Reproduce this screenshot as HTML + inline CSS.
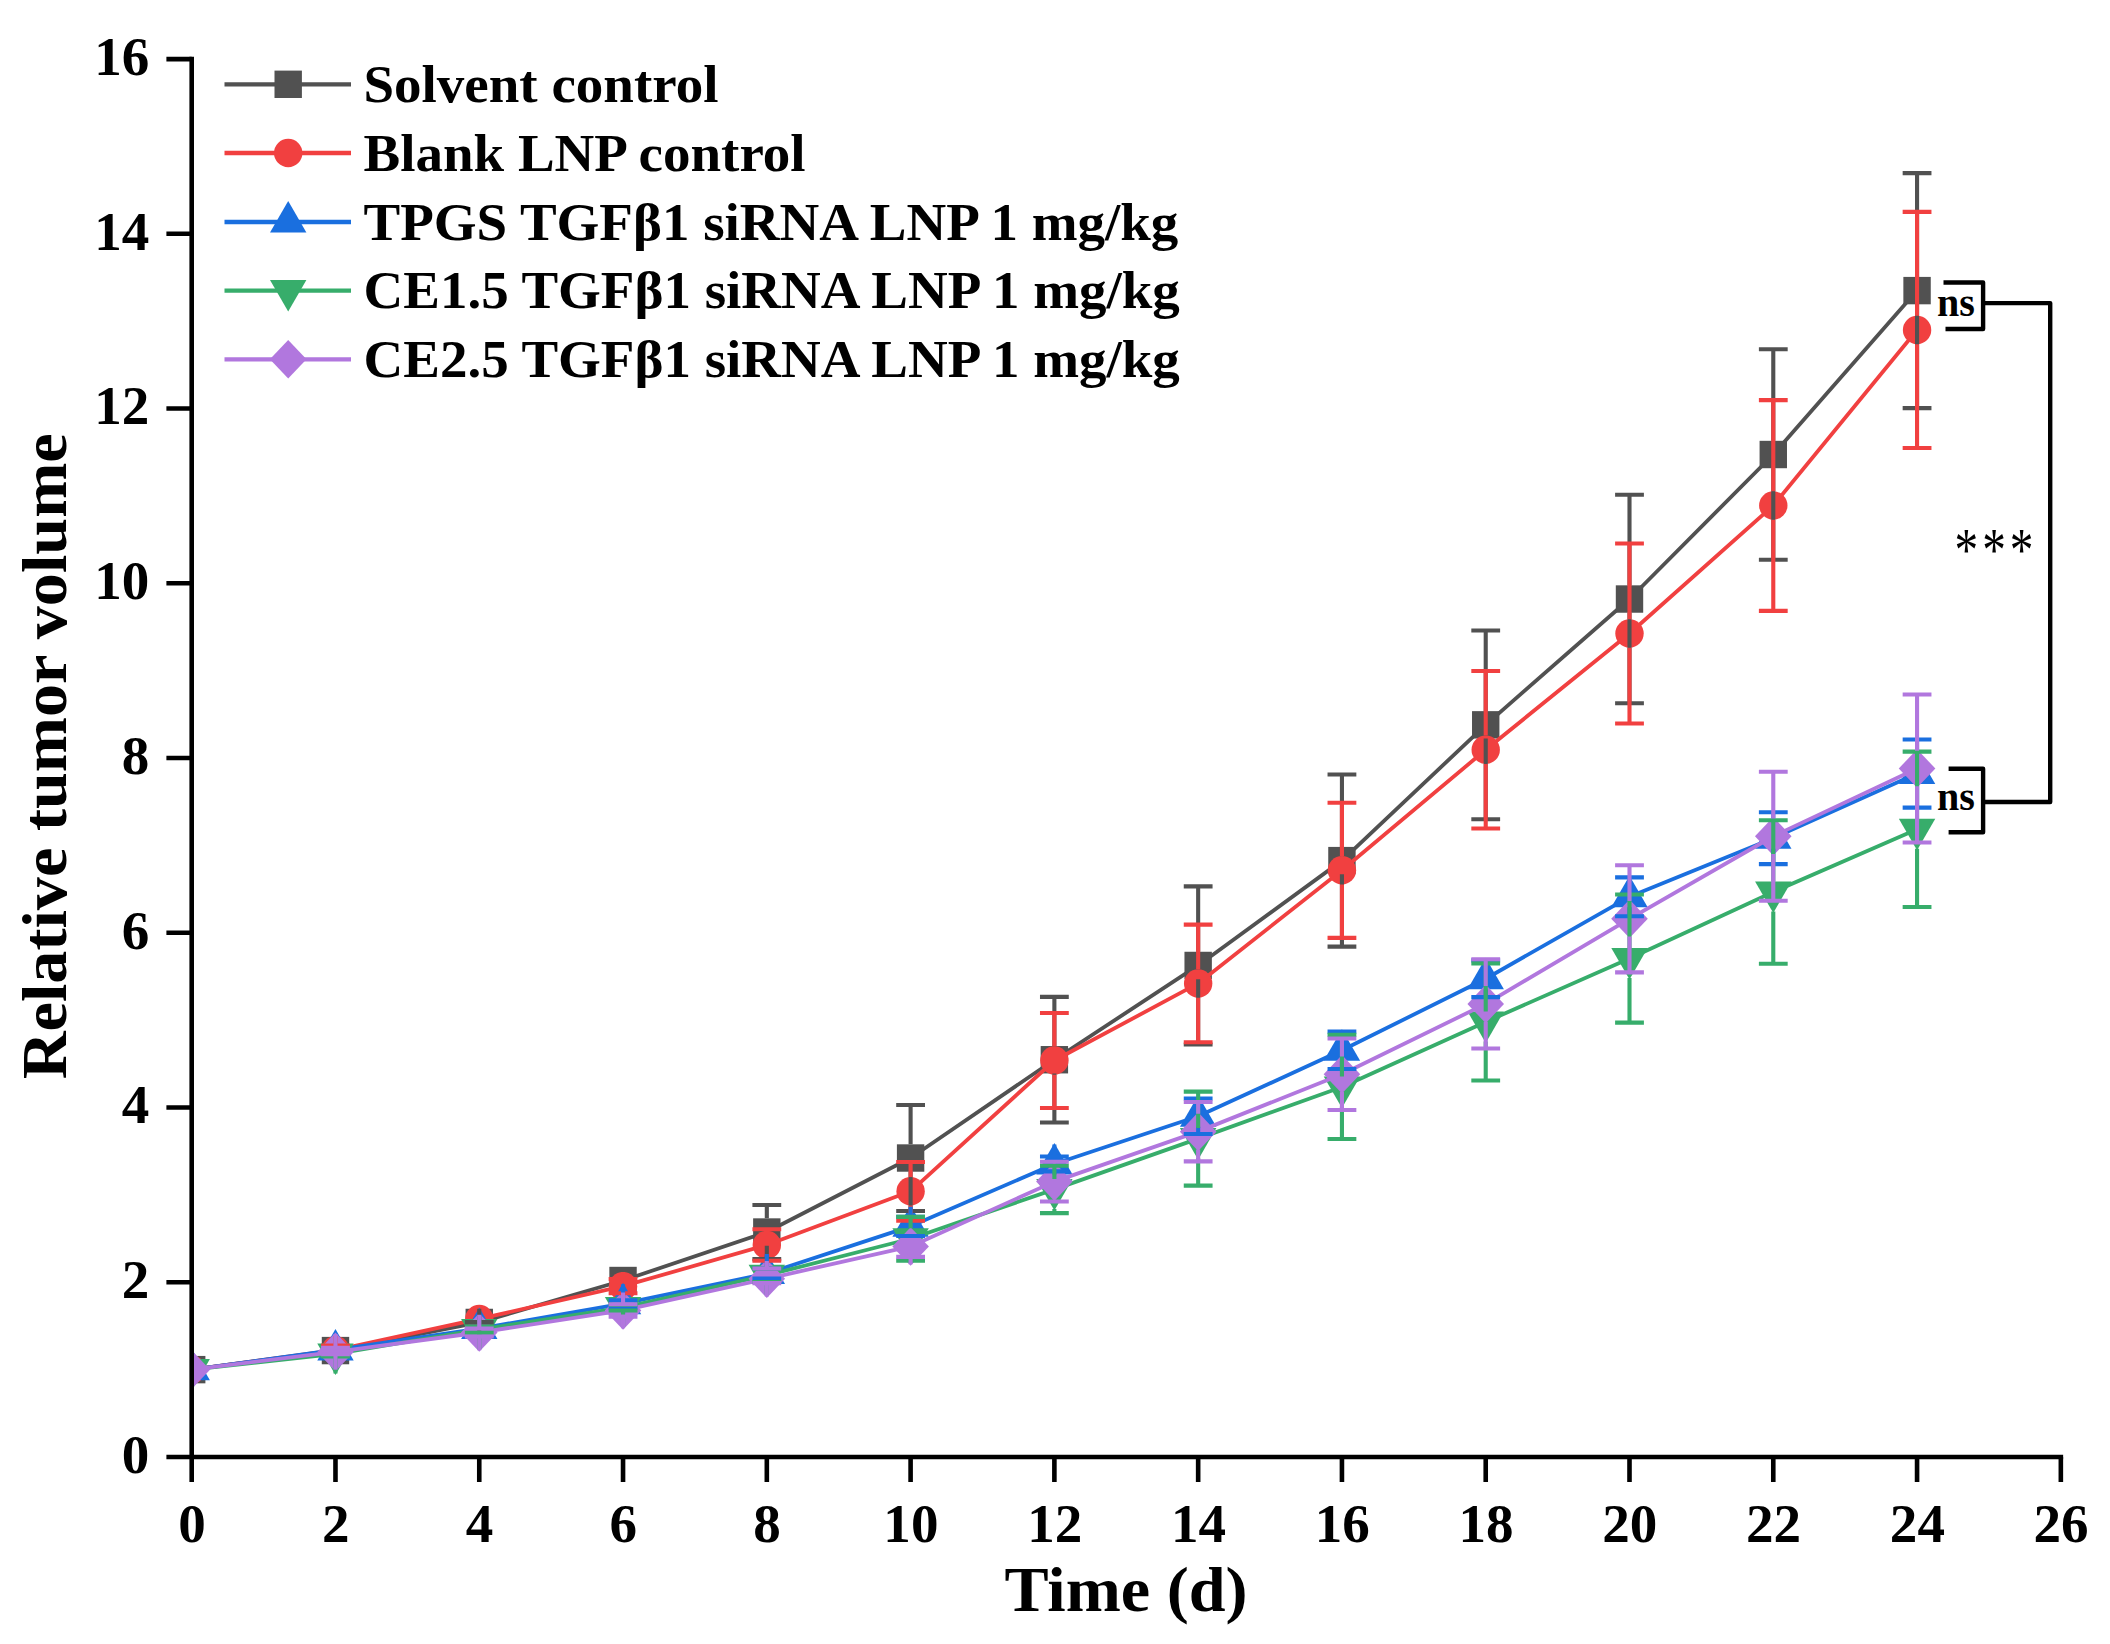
<!DOCTYPE html>
<html lang="en"><head><meta charset="utf-8"><title>Relative tumor volume</title>
<style>html,body{margin:0;padding:0;background:#fff}svg{display:block}text{font-family:"Liberation Serif",serif;font-weight:bold;fill:#000}</style></head><body>
<svg width="2110" height="1644" viewBox="0 0 2110 1644">
<rect width="2110" height="1644" fill="#fff"/>
<defs><clipPath id="pc"><rect x="191.7" y="0" width="2110" height="1457.0"/></clipPath></defs>
<g clip-path="url(#pc)">
<polyline points="191.70,1369.63 335.48,1350.58 479.26,1322.45 623.04,1280.51 766.82,1232.02 910.60,1158.02 1054.38,1059.73 1198.16,965.46 1341.94,860.61 1485.72,724.84 1629.50,599.03 1773.28,454.52 1917.06,290.61" fill="none" stroke="#515151" stroke-width="3.8" stroke-linejoin="round"/>
<rect x="178.00" y="1355.93" width="27.40" height="27.40" fill="#515151"/>
<rect x="321.78" y="1336.88" width="27.40" height="27.40" fill="#515151"/>
<rect x="465.56" y="1308.75" width="27.40" height="27.40" fill="#515151"/>
<rect x="609.34" y="1266.81" width="27.40" height="27.40" fill="#515151"/>
<rect x="753.12" y="1218.32" width="27.40" height="27.40" fill="#515151"/>
<rect x="896.90" y="1144.32" width="27.40" height="27.40" fill="#515151"/>
<rect x="1040.68" y="1046.03" width="27.40" height="27.40" fill="#515151"/>
<rect x="1184.46" y="951.76" width="27.40" height="27.40" fill="#515151"/>
<rect x="1328.24" y="846.91" width="27.40" height="27.40" fill="#515151"/>
<rect x="1472.02" y="711.14" width="27.40" height="27.40" fill="#515151"/>
<rect x="1615.80" y="585.33" width="27.40" height="27.40" fill="#515151"/>
<rect x="1759.58" y="440.82" width="27.40" height="27.40" fill="#515151"/>
<rect x="1903.36" y="276.91" width="27.40" height="27.40" fill="#515151"/>
<polyline points="191.70,1369.63 335.48,1350.23 479.26,1318.96 623.04,1286.19 766.82,1245.04 910.60,1191.31 1054.38,1060.51 1198.16,983.45 1341.94,870.31 1485.72,749.74 1629.50,633.54 1773.28,505.54 1917.06,329.93" fill="none" stroke="#F14040" stroke-width="3.8" stroke-linejoin="round"/>
<circle cx="191.70" cy="1369.63" r="14.2" fill="#F14040"/>
<circle cx="335.48" cy="1350.23" r="14.2" fill="#F14040"/>
<circle cx="479.26" cy="1318.96" r="14.2" fill="#F14040"/>
<circle cx="623.04" cy="1286.19" r="14.2" fill="#F14040"/>
<circle cx="766.82" cy="1245.04" r="14.2" fill="#F14040"/>
<circle cx="910.60" cy="1191.31" r="14.2" fill="#F14040"/>
<circle cx="1054.38" cy="1060.51" r="14.2" fill="#F14040"/>
<circle cx="1198.16" cy="983.45" r="14.2" fill="#F14040"/>
<circle cx="1341.94" cy="870.31" r="14.2" fill="#F14040"/>
<circle cx="1485.72" cy="749.74" r="14.2" fill="#F14040"/>
<circle cx="1629.50" cy="633.54" r="14.2" fill="#F14040"/>
<circle cx="1773.28" cy="505.54" r="14.2" fill="#F14040"/>
<circle cx="1917.06" cy="329.93" r="14.2" fill="#F14040"/>
<polyline points="191.70,1369.63 335.48,1349.97 479.26,1328.57 623.04,1303.67 766.82,1273.52 910.60,1226.34 1054.38,1163.96 1198.16,1116.26 1341.94,1050.29 1485.72,978.74 1629.50,896.78 1773.28,838.16 1917.06,773.50" fill="none" stroke="#1A6FDF" stroke-width="3.8" stroke-linejoin="round"/>
<polygon points="191.70,1348.61 209.90,1380.14 173.50,1380.14" fill="#1A6FDF"/>
<polygon points="335.48,1328.96 353.68,1360.48 317.28,1360.48" fill="#1A6FDF"/>
<polygon points="479.26,1307.55 497.46,1339.07 461.06,1339.07" fill="#1A6FDF"/>
<polygon points="623.04,1282.65 641.24,1314.17 604.84,1314.17" fill="#1A6FDF"/>
<polygon points="766.82,1252.51 785.02,1284.03 748.62,1284.03" fill="#1A6FDF"/>
<polygon points="910.60,1205.33 928.80,1236.85 892.40,1236.85" fill="#1A6FDF"/>
<polygon points="1054.38,1142.95 1072.58,1174.47 1036.18,1174.47" fill="#1A6FDF"/>
<polygon points="1198.16,1095.24 1216.36,1126.76 1179.96,1126.76" fill="#1A6FDF"/>
<polygon points="1341.94,1029.28 1360.14,1060.80 1323.74,1060.80" fill="#1A6FDF"/>
<polygon points="1485.72,957.72 1503.92,989.24 1467.52,989.24" fill="#1A6FDF"/>
<polygon points="1629.50,875.77 1647.70,907.29 1611.30,907.29" fill="#1A6FDF"/>
<polygon points="1773.28,817.14 1791.48,848.67 1755.08,848.67" fill="#1A6FDF"/>
<polygon points="1917.06,752.49 1935.26,784.01 1898.86,784.01" fill="#1A6FDF"/>
<polyline points="191.70,1369.63 335.48,1353.90 479.26,1329.61 623.04,1307.60 766.82,1275.27 910.60,1238.75 1054.38,1189.39 1198.16,1138.62 1341.94,1086.99 1485.72,1021.90 1629.50,958.55 1773.28,891.98 1917.06,829.33" fill="none" stroke="#37AD6B" stroke-width="3.8" stroke-linejoin="round"/>
<polygon points="191.70,1390.65 209.90,1359.12 173.50,1359.12" fill="#37AD6B"/>
<polygon points="335.48,1374.92 353.68,1343.40 317.28,1343.40" fill="#37AD6B"/>
<polygon points="479.26,1350.63 497.46,1319.11 461.06,1319.11" fill="#37AD6B"/>
<polygon points="623.04,1328.61 641.24,1297.09 604.84,1297.09" fill="#37AD6B"/>
<polygon points="766.82,1296.29 785.02,1264.76 748.62,1264.76" fill="#37AD6B"/>
<polygon points="910.60,1259.77 928.80,1228.24 892.40,1228.24" fill="#37AD6B"/>
<polygon points="1054.38,1210.40 1072.58,1178.88 1036.18,1178.88" fill="#37AD6B"/>
<polygon points="1198.16,1159.64 1216.36,1128.12 1179.96,1128.12" fill="#37AD6B"/>
<polygon points="1341.94,1108.00 1360.14,1076.48 1323.74,1076.48" fill="#37AD6B"/>
<polygon points="1485.72,1042.91 1503.92,1011.39 1467.52,1011.39" fill="#37AD6B"/>
<polygon points="1629.50,979.57 1647.70,948.05 1611.30,948.05" fill="#37AD6B"/>
<polygon points="1773.28,912.99 1791.48,881.47 1755.08,881.47" fill="#37AD6B"/>
<polygon points="1917.06,850.35 1935.26,818.83 1898.86,818.83" fill="#37AD6B"/>
<polyline points="191.70,1369.63 335.48,1351.89 479.26,1332.50 623.04,1310.39 766.82,1278.77 910.60,1246.44 1054.38,1181.61 1198.16,1131.63 1341.94,1074.23 1485.72,1003.90 1629.50,918.80 1773.28,836.24 1917.06,768.52" fill="none" stroke="#B177DE" stroke-width="3.8" stroke-linejoin="round"/>
<polygon points="191.70,1350.33 210.00,1369.63 191.70,1388.93 173.40,1369.63" fill="#B177DE"/>
<polygon points="335.48,1332.59 353.78,1351.89 335.48,1371.19 317.18,1351.89" fill="#B177DE"/>
<polygon points="479.26,1313.20 497.56,1332.50 479.26,1351.80 460.96,1332.50" fill="#B177DE"/>
<polygon points="623.04,1291.09 641.34,1310.39 623.04,1329.69 604.74,1310.39" fill="#B177DE"/>
<polygon points="766.82,1259.47 785.12,1278.77 766.82,1298.07 748.52,1278.77" fill="#B177DE"/>
<polygon points="910.60,1227.14 928.90,1246.44 910.60,1265.74 892.30,1246.44" fill="#B177DE"/>
<polygon points="1054.38,1162.31 1072.68,1181.61 1054.38,1200.91 1036.08,1181.61" fill="#B177DE"/>
<polygon points="1198.16,1112.33 1216.46,1131.63 1198.16,1150.93 1179.86,1131.63" fill="#B177DE"/>
<polygon points="1341.94,1054.93 1360.24,1074.23 1341.94,1093.53 1323.64,1074.23" fill="#B177DE"/>
<polygon points="1485.72,984.60 1504.02,1003.90 1485.72,1023.20 1467.42,1003.90" fill="#B177DE"/>
<polygon points="1629.50,899.50 1647.80,918.80 1629.50,938.10 1611.20,918.80" fill="#B177DE"/>
<polygon points="1773.28,816.94 1791.58,836.24 1773.28,855.54 1754.98,836.24" fill="#B177DE"/>
<polygon points="1917.06,749.22 1935.36,768.52 1917.06,787.82 1898.76,768.52" fill="#B177DE"/>
<g stroke="#515151" stroke-width="4.1" fill="none"><path d="M479.26,1308.75V1322.10M464.86,1322.10H493.66M479.26,1336.15V1322.80M464.86,1322.80H493.66"/><path d="M766.82,1218.32V1204.94M752.42,1204.94H781.22M766.82,1245.72V1259.11M752.42,1259.11H781.22"/><path d="M910.60,1144.32V1104.99M896.20,1104.99H925.00M910.60,1171.72V1211.05M896.20,1211.05H925.00"/><path d="M1054.38,1046.03V996.91M1039.98,996.91H1068.78M1054.38,1073.43V1122.55M1039.98,1122.55H1068.78"/><path d="M1198.16,951.76V886.39M1183.76,886.39H1212.56M1198.16,979.16V1044.53M1183.76,1044.53H1212.56"/><path d="M1341.94,846.91V774.55M1327.54,774.55H1356.34M1341.94,874.31V946.67M1327.54,946.67H1356.34"/><path d="M1485.72,711.14V630.48M1471.32,630.48H1500.12M1485.72,738.54V819.20M1471.32,819.20H1500.12"/><path d="M1629.50,585.33V494.79M1615.10,494.79H1643.90M1629.50,612.73V703.26M1615.10,703.26H1643.90"/><path d="M1773.28,440.82V349.24M1758.88,349.24H1787.68M1773.28,468.22V559.80M1758.88,559.80H1787.68"/><path d="M1917.06,276.91V173.10M1902.66,173.10H1931.46M1917.06,304.31V408.12M1902.66,408.12H1931.46"/></g>
<g stroke="#F14040" stroke-width="4.1" fill="none"><path d="M335.48,1336.03V1345.60M321.08,1345.60H349.88"/><path d="M623.04,1271.99V1279.11M608.64,1279.11H637.44M623.04,1300.39V1293.27M608.64,1293.27H637.44"/><path d="M766.82,1230.84V1229.31M752.42,1229.31H781.22M766.82,1259.24V1260.77M752.42,1260.77H781.22"/><path d="M910.60,1177.11V1162.04M896.20,1162.04H925.00M910.60,1205.51V1220.58M896.20,1220.58H925.00"/><path d="M1054.38,1046.31V1013.07M1039.98,1013.07H1068.78M1054.38,1074.71V1107.96M1039.98,1107.96H1068.78"/><path d="M1198.16,969.25V924.65M1183.76,924.65H1212.56M1198.16,997.65V1042.25M1183.76,1042.25H1212.56"/><path d="M1341.94,856.11V802.77M1327.54,802.77H1356.34M1341.94,884.51V937.85M1327.54,937.85H1356.34"/><path d="M1485.72,735.54V670.93M1471.32,670.93H1500.12M1485.72,763.94V828.55M1471.32,828.55H1500.12"/><path d="M1629.50,619.34V543.55M1615.10,543.55H1643.90M1629.50,647.74V723.53M1615.10,723.53H1643.90"/><path d="M1773.28,491.34V400.17M1758.88,400.17H1787.68M1773.28,519.74V610.91M1758.88,610.91H1787.68"/><path d="M1917.06,315.73V211.89M1902.66,211.89H1931.46M1917.06,344.13V447.96M1902.66,447.96H1931.46"/></g>
<g stroke="#1A6FDF" stroke-width="4.1" fill="none"><path d="M623.04,1284.15V1300.35M608.64,1300.35H637.44M623.04,1314.17V1307.77M608.64,1307.77H637.44"/><path d="M766.82,1254.01V1268.46M752.42,1268.46H781.22M766.82,1284.03V1278.59M752.42,1278.59H781.22"/><path d="M910.60,1206.83V1216.73M896.20,1216.73H925.00M910.60,1236.85V1235.95M896.20,1235.95H925.00"/><path d="M1054.38,1144.45V1156.53M1039.98,1156.53H1068.78M1054.38,1174.47V1171.39M1039.98,1171.39H1068.78"/><path d="M1198.16,1096.74V1098.52M1183.76,1098.52H1212.56M1198.16,1126.76V1133.99M1183.76,1133.99H1212.56"/><path d="M1341.94,1030.78V1031.60M1327.54,1031.60H1356.34M1341.94,1060.80V1068.99M1327.54,1068.99H1356.34"/><path d="M1485.72,959.22V960.39M1471.32,960.39H1500.12M1485.72,989.24V997.08M1471.32,997.08H1500.12"/><path d="M1629.50,877.27V877.39M1615.10,877.39H1643.90M1629.50,907.29V916.18M1615.10,916.18H1643.90"/><path d="M1773.28,818.64V812.21M1758.88,812.21H1787.68M1773.28,848.67V864.11M1758.88,864.11H1787.68"/><path d="M1917.06,753.99V739.43M1902.66,739.43H1931.46M1917.06,784.01V807.58M1902.66,807.58H1931.46"/></g>
<g stroke="#37AD6B" stroke-width="4.1" fill="none"><path d="M335.48,1373.42V1356.52M321.08,1356.52H349.88"/><path d="M479.26,1319.11V1326.64M464.86,1326.64H493.66M479.26,1349.13V1332.59M464.86,1332.59H493.66"/><path d="M623.04,1297.09V1304.71M608.64,1304.71H637.44M623.04,1327.11V1310.48M608.64,1310.48H637.44"/><path d="M766.82,1264.76V1268.54M752.42,1268.54H781.22M766.82,1294.79V1282.00M752.42,1282.00H781.22"/><path d="M910.60,1228.24V1216.91M896.20,1216.91H925.00M910.60,1258.27V1260.59M896.20,1260.59H925.00"/><path d="M1054.38,1178.88V1165.62M1039.98,1165.62H1068.78M1054.38,1208.90V1213.15M1039.98,1213.15H1068.78"/><path d="M1198.16,1128.12V1091.62M1183.76,1091.62H1212.56M1198.16,1158.14V1185.63M1183.76,1185.63H1212.56"/><path d="M1341.94,1076.48V1034.92M1327.54,1034.92H1356.34M1341.94,1106.50V1139.06M1327.54,1139.06H1356.34"/><path d="M1485.72,1011.39V963.36M1471.32,963.36H1500.12M1485.72,1041.41V1080.44M1471.32,1080.44H1500.12"/><path d="M1629.50,948.05V894.51M1615.10,894.51H1643.90M1629.50,978.07V1022.60M1615.10,1022.60H1643.90"/><path d="M1773.28,881.47V820.25M1758.88,820.25H1787.68M1773.28,911.49V963.71M1758.88,963.71H1787.68"/><path d="M1917.06,818.83V751.66M1902.66,751.66H1931.46M1917.06,848.85V907.01M1902.66,907.01H1931.46"/></g>
<g stroke="#B177DE" stroke-width="4.1" fill="none"><path d="M335.48,1334.09V1347.79M321.08,1347.79H349.88M335.48,1369.69V1354.25M321.08,1354.25H349.88"/><path d="M479.26,1314.70V1328.48M464.86,1328.48H493.66M479.26,1350.30V1336.52M464.86,1336.52H493.66"/><path d="M623.04,1292.59V1304.19M608.64,1304.19H637.44M623.04,1328.19V1316.60M608.64,1316.60H637.44"/><path d="M766.82,1260.97V1268.46M752.42,1268.46H781.22M766.82,1296.57V1283.13M752.42,1283.13H781.22"/><path d="M910.60,1264.24V1256.92M896.20,1256.92H925.00"/><path d="M1054.38,1163.81V1161.69M1039.98,1161.69H1068.78M1054.38,1199.41V1201.53M1039.98,1201.53H1068.78"/><path d="M1198.16,1113.83V1101.93M1183.76,1101.93H1212.56M1198.16,1149.43V1161.34M1183.76,1161.34H1212.56"/><path d="M1341.94,1056.43V1038.50M1327.54,1038.50H1356.34M1341.94,1092.03V1109.97M1327.54,1109.97H1356.34"/><path d="M1485.72,986.10V959.25M1471.32,959.25H1500.12M1485.72,1021.70V1048.55M1471.32,1048.55H1500.12"/><path d="M1629.50,901.00V865.24M1615.10,865.24H1643.90M1629.50,936.60V972.36M1615.10,972.36H1643.90"/><path d="M1773.28,818.44V771.76M1758.88,771.76H1787.68M1773.28,854.04V900.72M1758.88,900.72H1787.68"/><path d="M1917.06,750.72V694.52M1902.66,694.52H1931.46M1917.06,786.32V842.53M1902.66,842.53H1931.46"/></g>
</g>
<g stroke="#000" stroke-width="4.6" fill="none">
<path d="M191.7,56.78V1482.00"/>
<path d="M166.39999999999998,1457.0H2063.14"/>
<path d="M166.39999999999998,1282.26H191.7M166.39999999999998,1107.52H191.7M166.39999999999998,932.78H191.7M166.39999999999998,758.04H191.7M166.39999999999998,583.30H191.7M166.39999999999998,408.56H191.7M166.39999999999998,233.82H191.7M166.39999999999998,59.08H191.7M335.48,1457.0V1482.00M479.26,1457.0V1482.00M623.04,1457.0V1482.00M766.82,1457.0V1482.00M910.60,1457.0V1482.00M1054.38,1457.0V1482.00M1198.16,1457.0V1482.00M1341.94,1457.0V1482.00M1485.72,1457.0V1482.00M1629.50,1457.0V1482.00M1773.28,1457.0V1482.00M1917.06,1457.0V1482.00M2060.84,1457.0V1482.00"/>
</g>
<text transform="translate(149.2,1472.8) scale(1.02,1)" font-size="54" text-anchor="end">0</text>
<text transform="translate(149.2,1298.1) scale(1.02,1)" font-size="54" text-anchor="end">2</text>
<text transform="translate(149.2,1123.3) scale(1.02,1)" font-size="54" text-anchor="end">4</text>
<text transform="translate(149.2,948.6) scale(1.02,1)" font-size="54" text-anchor="end">6</text>
<text transform="translate(149.2,773.8) scale(1.02,1)" font-size="54" text-anchor="end">8</text>
<text transform="translate(149.2,599.1) scale(1.02,1)" font-size="54" text-anchor="end">10</text>
<text transform="translate(149.2,424.4) scale(1.02,1)" font-size="54" text-anchor="end">12</text>
<text transform="translate(149.2,249.6) scale(1.02,1)" font-size="54" text-anchor="end">14</text>
<text transform="translate(149.2,74.9) scale(1.02,1)" font-size="54" text-anchor="end">16</text>
<text transform="translate(192.0,1541.8) scale(1.02,1)" font-size="54" text-anchor="middle">0</text>
<text transform="translate(335.8,1541.8) scale(1.02,1)" font-size="54" text-anchor="middle">2</text>
<text transform="translate(479.6,1541.8) scale(1.02,1)" font-size="54" text-anchor="middle">4</text>
<text transform="translate(623.3,1541.8) scale(1.02,1)" font-size="54" text-anchor="middle">6</text>
<text transform="translate(767.1,1541.8) scale(1.02,1)" font-size="54" text-anchor="middle">8</text>
<text transform="translate(910.9,1541.8) scale(1.02,1)" font-size="54" text-anchor="middle">10</text>
<text transform="translate(1054.7,1541.8) scale(1.02,1)" font-size="54" text-anchor="middle">12</text>
<text transform="translate(1198.5,1541.8) scale(1.02,1)" font-size="54" text-anchor="middle">14</text>
<text transform="translate(1342.2,1541.8) scale(1.02,1)" font-size="54" text-anchor="middle">16</text>
<text transform="translate(1486.0,1541.8) scale(1.02,1)" font-size="54" text-anchor="middle">18</text>
<text transform="translate(1629.8,1541.8) scale(1.02,1)" font-size="54" text-anchor="middle">20</text>
<text transform="translate(1773.6,1541.8) scale(1.02,1)" font-size="54" text-anchor="middle">22</text>
<text transform="translate(1917.4,1541.8) scale(1.02,1)" font-size="54" text-anchor="middle">24</text>
<text transform="translate(2061.1,1541.8) scale(1.02,1)" font-size="54" text-anchor="middle">26</text>
<text transform="translate(1126,1610.5) scale(1.034,1)" font-size="64" text-anchor="middle">Time (d)</text>
<text transform="translate(65.5,756.3) rotate(-90) scale(1.0346,1)" font-size="64" text-anchor="middle">Relative tumor volume</text>
<line x1="224.5" y1="84.3" x2="351" y2="84.3" stroke="#515151" stroke-width="4.3"/>
<rect x="274.50" y="70.60" width="27.40" height="27.40" fill="#515151"/>
<text transform="translate(363.5,102) scale(1.038,1)" font-size="53" text-anchor="start">Solvent control</text>
<line x1="224.5" y1="153" x2="351" y2="153" stroke="#F14040" stroke-width="4.3"/>
<circle cx="288.20" cy="153.00" r="14.2" fill="#F14040"/>
<text transform="translate(363.5,170.7) scale(1.038,1)" font-size="53" text-anchor="start">Blank LNP control</text>
<line x1="224.5" y1="222" x2="351" y2="222" stroke="#1A6FDF" stroke-width="4.3"/>
<polygon points="288.20,200.98 306.40,232.51 270.00,232.51" fill="#1A6FDF"/>
<text transform="translate(363.5,239.5) scale(1.038,1)" font-size="53" text-anchor="start">TPGS TGFβ1 siRNA LNP 1 mg/kg</text>
<line x1="224.5" y1="290.6" x2="351" y2="290.6" stroke="#37AD6B" stroke-width="4.3"/>
<polygon points="288.20,311.62 306.40,280.09 270.00,280.09" fill="#37AD6B"/>
<text transform="translate(363.5,308.3) scale(1.038,1)" font-size="53" text-anchor="start">CE1.5 TGFβ1 siRNA LNP 1 mg/kg</text>
<line x1="224.5" y1="359.3" x2="351" y2="359.3" stroke="#B177DE" stroke-width="4.3"/>
<polygon points="288.20,340.00 306.50,359.30 288.20,378.60 269.90,359.30" fill="#B177DE"/>
<text transform="translate(363.5,377) scale(1.038,1)" font-size="53" text-anchor="start">CE2.5 TGFβ1 siRNA LNP 1 mg/kg</text>
<g stroke="#000" stroke-width="4.4" fill="none" stroke-linejoin="round">
<path d="M1943.5,282.5H1983.1V329H1945.5"/>
<path d="M1948.6,768.8H1983.1V832.2H1948.6"/>
<path d="M1983.1,303.1H2050.2V802H1983.1"/>
</g>
<text x="1937" y="315.7" font-size="40">ns</text>
<text x="1937" y="810" font-size="40">ns</text>
<text transform="translate(1996,570) scale(0.86,1.13)" font-size="55" text-anchor="middle" style="font-weight:normal" letter-spacing="4.6">***</text>
</svg></body></html>
